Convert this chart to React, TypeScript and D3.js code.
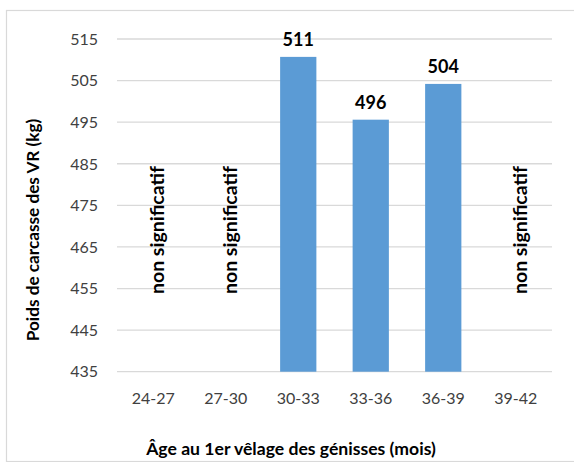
import React from "react";
import * as d3 from "d3";

const categories = ["24-27", "27-30", "30-33", "33-36", "36-39", "39-42"];
const values: (number | null)[] = [null, null, 510.7, 495.6, 504.2, null];
const valueLabels = ["", "", "511", "496", "504", ""];
const nsLabel = "non significatif";
const yTicks = [435, 445, 455, 465, 475, 485, 495, 505, 515];
const yTitle = "Poids de carcasse des VR (kg)";
const xTitle = "Âge au 1er vêlage des génisses (mois)";

const W = 574;
const H = 462;
const FONT = "Lato, 'Open Sans', sans-serif";

export default function App() {
  const left = 117;
  const right = 552;
  const top = 39;
  const bottom = 371.7;
  const x = d3.scaleBand<string>().domain(categories).range([left, right]).paddingInner(0.5).paddingOuter(0.25);
  const xb = d3.scaleBand<string>().domain(categories).range([left, right]);
  const y = d3.scaleLinear().domain([435, 515]).range([bottom, top]);

  return (
    <svg width={W} height={H} style={{ position: "absolute", left: 0, top: 0, background: "#fff" }}>
      <rect x={6.5} y={10.5} width={600} height={451} fill="#fff" stroke="#d9d9d9" strokeWidth={1.2} />
      {yTicks.map((t) => (
        <g key={t}>
          <line x1={left} x2={right} y1={y(t)} y2={y(t)} stroke="#d9d9d9" strokeWidth={1.3} />
          <text x={98} y={y(t)} dy="0.36em" textAnchor="end" fontFamily={FONT} fontSize={16} fill="#404040">
            {t}
          </text>
        </g>
      ))}
      {categories.map((c, i) => {
        const v = values[i];
        const cx = (xb(c) as number) + xb.bandwidth() / 2;
        return (
          <g key={c}>
            {v !== null ? (
              <>
                <rect x={x(c)} width={x.bandwidth()} y={y(v)} height={y(435) - y(v)} fill="#5b9bd5" />
                <text x={cx} y={y(v) - 11} textAnchor="middle" fontFamily={FONT} fontWeight="bold" fontSize={18} fill="#000">
                  {valueLabels[i]}
                </text>
              </>
            ) : (
              <text
                transform={`translate(${cx + 4},${230}) rotate(-90)`}
                textAnchor="middle"
                dy="0.35em"
                fontFamily={FONT}
                fontWeight="bold"
                fontSize={19.5}
                fill="#000"
              >
                {nsLabel}
              </text>
            )}
            <text x={cx} y={398} dy="0.35em" textAnchor="middle" fontFamily={FONT} fontSize={16} fill="#404040">
              {c}
            </text>
          </g>
        );
      })}
      <text
        transform={`translate(33,230) rotate(-90)`}
        textAnchor="middle"
        dy="0.35em"
        fontFamily={FONT}
        fontWeight="bold"
        fontSize={17.2}
        fill="#000"
      >
        {yTitle}
      </text>
      <text x={291} y={455} textAnchor="middle" fontFamily={FONT} fontWeight="bold" fontSize={17.6} fill="#000">
        {xTitle}
      </text>
    </svg>
  );
}
